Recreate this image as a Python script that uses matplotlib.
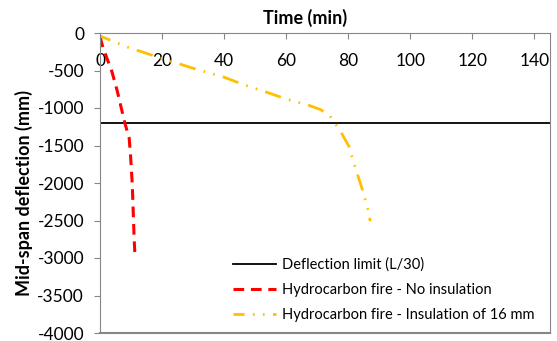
import matplotlib
matplotlib.use("Agg")
import matplotlib.pyplot as plt

plt.rcParams['font.family'] = ['Lato', 'DejaVu Sans']
plt.rcParams['axes.unicode_minus'] = False

# mid-span deflection vs fire exposure time
red_t = [0, 1, 3.8, 5.6, 8.0, 9.4, 9.9, 10.4, 10.7, 11.0, 11.3]
red_y = [-50, -200, -510, -780, -1200, -1400, -1670, -2020, -2380, -2740, -3000]

yel_t = [0, 9, 20, 30, 40, 47, 53, 60, 67, 71, 74, 75.6, 77.2, 80.2, 82, 84.7, 86.4, 87.1]
yel_y = [-40, -190, -340, -470, -590, -700, -780, -880, -960, -1020, -1100, -1200,
         -1290, -1510, -1760, -2110, -2360, -2510]

limit = -1200
xticks = [0, 20, 40, 60, 80, 100, 120, 140]
yticks = [0, -500, -1000, -1500, -2000, -2500, -3000, -3500, -4000]

fig = plt.figure(figsize=(5.57, 3.41), dpi=100)
ax = fig.add_axes([100/557, 1 - 333/341, 450/557, 300/341])

ax.axhline(limit, color='black', lw=1.3, label='Deflection limit (L/30)')
ax.plot(red_t, red_y, color='#ff0000', lw=2.2, ls=(0, (3.5, 2.2)),
        label='Hydrocarbon fire - No insulation')
ax.plot(yel_t, yel_y, color='#ffc000', lw=2.0, ls=(2, (6, 3, 0.6, 3, 0.6, 3)),
        label='Hydrocarbon fire - Insulation of 16 mm')

ax.set_xlim(0, 145)
ax.set_ylim(-4000, 0)
ax.set_xticks(xticks)
ax.set_yticks(yticks)

gray = '#868686'
ax.spines['bottom'].set_position(('data', 0))
for s in ax.spines.values():
    s.set_color(gray)
ax.spines['top'].set_visible(False)
ax.axhline(-4000, color=gray, lw=1.5, clip_on=False)

ax.tick_params(axis='x', direction='out', length=4.5, color=gray, labelsize=12.5, pad=10)
ax.tick_params(axis='y', direction='out', length=4.5, color=gray, labelsize=12.5, pad=7)

fig.text(305/557, 1 - 18/341, 'Time (min)', ha='center', va='center',
         fontsize=13, fontweight='bold')
fig.text(24/557, 1 - 193/341, 'Mid-span deflection (mm)', ha='center', va='center',
         rotation=90, fontsize=13, fontweight='bold')

ax.legend(loc='lower right', bbox_to_anchor=(545/557, 1 - 332/341),
          bbox_transform=fig.transFigure, frameon=False, fontsize=10.5,
          handlelength=3.0, handletextpad=0.4, labelspacing=0.75, borderpad=0.2)

fig.savefig('out.png', dpi=100)
